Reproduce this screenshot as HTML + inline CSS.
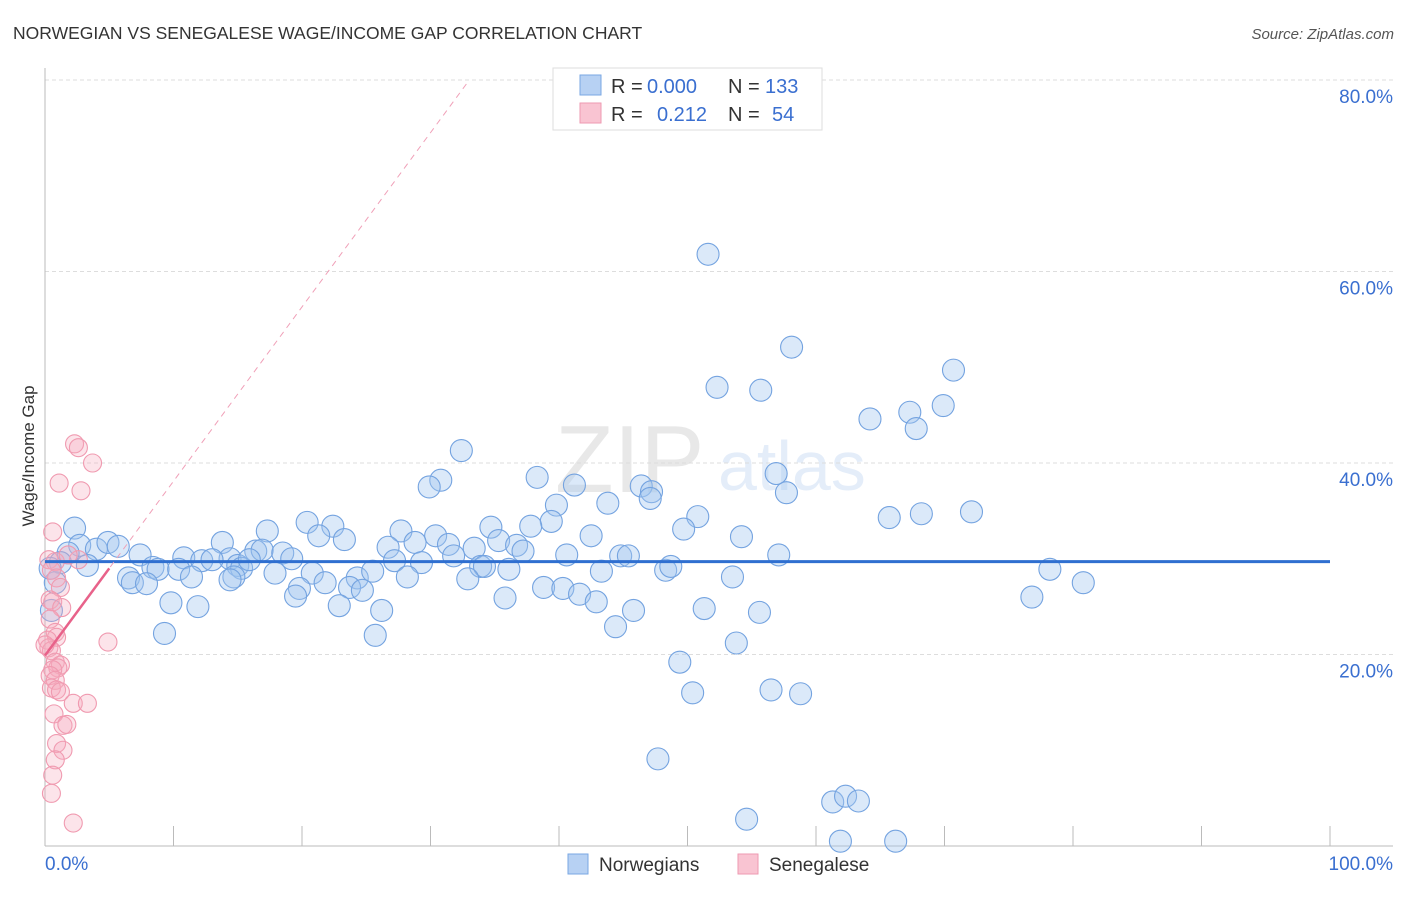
<!DOCTYPE html>
<html><head><meta charset="utf-8"><style>
body{margin:0;background:#fff;font-family:"Liberation Sans",sans-serif}
svg text{font-family:"Liberation Sans",sans-serif}
</style></head><body>
<svg id="chart" width="1406" height="892" xmlns="http://www.w3.org/2000/svg">
<text x="13" y="39" font-size="17.5" fill="#333">NORWEGIAN VS SENEGALESE WAGE/INCOME GAP CORRELATION CHART</text>
<text x="1394" y="39" font-size="15" fill="#555" text-anchor="end" font-style="italic">Source: ZipAtlas.com</text>
<g opacity="0.13">
<text x="555" y="492" font-size="96" font-family="Liberation Serif" fill="#555">ZIP</text>
<text x="718" y="490" font-size="70" fill="#3a7bd5">atlas</text>
</g>
<g id="grid"></g>
<g id="axes"></g>
<g id="pts"></g>
<g id="lines"></g>
<text x="34" y="456" font-size="17" fill="#333" text-anchor="middle" transform="rotate(-90 34 456)">Wage/Income Gap</text>
<g>
<rect x="553" y="68" width="269" height="62" fill="#fff" stroke="#ddd"/>
<rect x="580" y="75" width="21" height="20" fill="#b7d1f3" stroke="#7aa7e3"/>
<rect x="580" y="103" width="21" height="20" fill="#f9c4d2" stroke="#ee9ab1"/>
<text x="611" y="93" font-size="20" fill="#333">R =</text>
<text x="647" y="93" font-size="20" fill="#3a6fd0">0.000</text>
<text x="728" y="93" font-size="20" fill="#333">N =</text>
<text x="765" y="93" font-size="20" fill="#3a6fd0">133</text>
<text x="611" y="121" font-size="20" fill="#333">R =</text>
<text x="657" y="121" font-size="20" fill="#3a6fd0">0.212</text>
<text x="728" y="121" font-size="20" fill="#333">N =</text>
<text x="772" y="121" font-size="20" fill="#3a6fd0">54</text>
</g>
<g>
<rect x="568" y="854" width="20" height="20" fill="#b7d1f3" stroke="#7aa7e3"/>
<text x="599" y="871" font-size="19" fill="#333">Norwegians</text>
<rect x="738" y="854" width="20" height="20" fill="#f9c4d2" stroke="#ee9ab1"/>
<text x="769" y="871" font-size="19" fill="#333">Senegalese</text>
</g>
</svg>
<script>
const yTicks=[20,40,60,80];
const yTickLabels=["20.0%","40.0%","60.0%","80.0%"];
const xTickLabels=["0.0%","100.0%"];
const blueX=[51.6,58.1,70.7,52.3,55.7,67.3,64.2,69.9,67.8,32.4,38.3,30.8,29.9,41.2,46.4,47.2,47.1,56.9,57.7,43.8,39.8,65.7,68.2,72.1,50.8,20.4,22.4,34.7,39.4,37.8,49.7,2.3,17.3,27.7,21.3,23.3,30.4,42.5,54.2,13.8,26.7,28.8,31.4,35.3,36.7,33.4,2.7,1.8,4.0,4.9,5.7,7.4,10.8,16.4,14.4,16.9,18.5,19.2,31.8,37.2,40.6,44.8,45.4,57.1,1.2,3.3,8.4,8.8,10.4,12.2,13.0,15.0,15.3,15.9,27.2,29.3,33.9,34.2,36.1,48.3,48.7,14.7,11.4,17.9,6.5,6.8,7.9,14.4,20.8,24.3,25.5,19.8,19.5,21.8,23.7,24.7,28.2,32.9,35.8,38.8,40.3,41.6,43.3,53.5,42.9,9.8,11.9,22.9,26.2,45.8,51.3,55.6,44.4,9.3,25.7,53.8,49.4,50.4,56.5,58.8,47.7,61.3,62.3,63.3,54.6,61.9,66.2,78.2,76.8,80.8,0.8,0.5,0.4];
const blueY=[61.8,52.1,49.7,47.9,47.6,45.3,44.6,46.0,43.6,41.3,38.5,38.2,37.5,37.7,37.6,37.0,36.3,38.9,36.9,35.8,35.6,34.3,34.7,34.9,34.4,33.8,33.4,33.3,33.9,33.4,33.1,33.2,32.9,32.9,32.4,32.0,32.4,32.4,32.3,31.7,31.2,31.7,31.5,31.9,31.4,31.1,31.4,30.6,31.0,31.7,31.3,30.4,30.1,30.8,30.0,30.9,30.6,30.0,30.3,30.8,30.4,30.3,30.3,30.4,29.6,29.3,29.1,28.9,28.9,29.8,29.9,29.3,29.0,29.9,29.8,29.6,29.2,29.2,28.9,28.8,29.2,28.1,28.1,28.5,28.0,27.5,27.4,27.8,28.5,28.0,28.7,26.9,26.1,27.5,27.0,26.7,28.1,27.9,25.9,27.0,26.9,26.3,28.7,28.1,25.5,25.4,25.0,25.1,24.6,24.6,24.8,24.4,22.9,22.2,22.0,21.2,19.2,16.0,16.3,15.9,9.1,4.6,5.2,4.7,2.8,0.5,0.5,28.9,26.0,27.5,27.5,24.6,29.0];
const pinkX=[2.3,2.6,3.7,1.1,2.8,0.6,0.3,0.8,2.6,1.8,0.5,0.9,1.2,0.4,0.6,1.3,0.4,0.8,0.9,4.9,0.2,0.3,0.5,0.8,1.2,1.0,0.6,0.4,0.8,0.5,0.9,1.2,2.2,3.3,0.7,1.4,1.7,0.9,1.4,0.8,0.6,0.5,2.2,0.0];
const pinkY=[42.0,41.6,40.0,37.9,37.1,32.8,29.9,29.7,29.9,30.4,28.8,28.0,27.0,25.7,25.5,24.9,23.7,22.3,21.8,21.3,21.5,20.7,20.4,19.2,18.9,18.6,18.4,17.8,17.3,16.5,16.3,16.1,14.9,14.9,13.8,12.6,12.7,10.7,10.0,9.0,7.4,5.5,2.4,21.0];
const blueFit=[29.7,29.7];
const pinkFit=[19.9,1.82];
const NS="http://www.w3.org/2000/svg";
const X=v=>45+v*12.85, Y=v=>846-v*9.575;
function mk(t,a,p){const e=document.createElementNS(NS,t);for(const k in a)e.setAttribute(k,a[k]);p.appendChild(e);return e;}
const grid=document.getElementById('grid'),axes=document.getElementById('axes'),pts=document.getElementById('pts'),lines=document.getElementById('lines');
yTicks.forEach((t,i)=>{
 const l=mk('line',{x1:45,x2:1393,y1:Y(t),y2:Y(t),stroke:'#ddd','stroke-dasharray':'4,3'},grid);
 
 
 const tx=mk('text',{x:1393,y:Y(t)+23,'font-size':19,fill:'#3a6fd0','text-anchor':'end'},axes);
 tx.textContent=yTickLabels[i];
 
 
});
mk('line',{x1:45,x2:45,y1:68,y2:846,stroke:'#bbb'},axes);
mk('line',{x1:45,x2:1393,y1:846,y2:846,stroke:'#bbb'},axes);
for(let i=0;i<=10;i++){
 const t=mk('line',{x1:X(i*10),x2:X(i*10),y1:826,y2:846,stroke:'#bbb'},axes);
 
 
}
const xl0=mk('text',{x:45,y:870,'font-size':19,fill:'#3a6fd0'},axes);xl0.textContent=xTickLabels[0];


const xl1=mk('text',{x:1393,y:870,'font-size':19,fill:'#3a6fd0','text-anchor':'end'},axes);xl1.textContent=xTickLabels[1];


blueX.forEach((v,i)=>{
 const c=mk('circle',{cx:X(v),cy:Y(blueY[i]),r:11,fill:'rgba(160,196,240,0.38)',stroke:'#74a3e0','stroke-width':1.1},pts);
 
 
});
pinkX.forEach((v,i)=>{
 const c=mk('circle',{cx:X(v),cy:Y(pinkY[i]),r:9,fill:'rgba(245,170,190,0.32)',stroke:'#f09ab0','stroke-width':1.1},pts);
 
 
});
const bl=mk('line',{x1:X(0),x2:X(100),y1:Y(blueFit[0]),y2:Y(blueFit[1]),stroke:'#2f6fd0','stroke-width':3},lines);


const xe=(80-pinkFit[0])/pinkFit[1];
const pd=mk('line',{x1:X(0),x2:X(xe),y1:Y(pinkFit[0]),y2:Y(80),stroke:'#f0a0b8','stroke-width':1,'stroke-dasharray':'6,5'},lines);


const ps=mk('line',{x1:X(0),x2:X(5),y1:Y(pinkFit[0]),y2:Y(pinkFit[0]+5*pinkFit[1]),stroke:'#e8628a','stroke-width':2.5},lines);


</script>
</body></html>
